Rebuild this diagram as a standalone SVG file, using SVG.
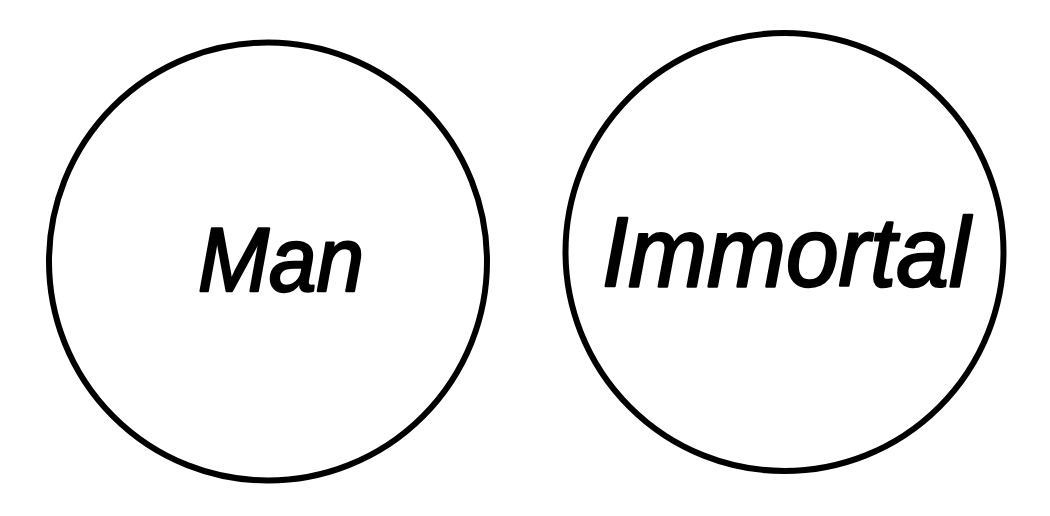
<svg xmlns="http://www.w3.org/2000/svg" width="1050" height="516" viewBox="0 0 1050 516">
  <style>
    .ring { fill: none; stroke: #000; stroke-width: 6; }
    .label { font-family: "Liberation Sans", Arial, sans-serif; font-style: italic; fill: #000; stroke: #000; stroke-width: 2.5; stroke-linejoin: round; }
  </style>
  <rect width="1050" height="516" fill="#fff"/>
  <g id="node-man">
    <circle class="ring" cx="268" cy="261.5" r="219"/>
    <text class="label" x="198" y="291" font-size="90" textLength="166" lengthAdjust="spacingAndGlyphs">Man</text>
  </g>
  <g id="node-immortal">
    <circle class="ring" cx="784.5" cy="252" r="219"/>
    <text class="label" x="602" y="286" font-size="98" textLength="368" lengthAdjust="spacingAndGlyphs">Immortal</text>
  </g>
  <g id="connectors"></g>
</svg>
